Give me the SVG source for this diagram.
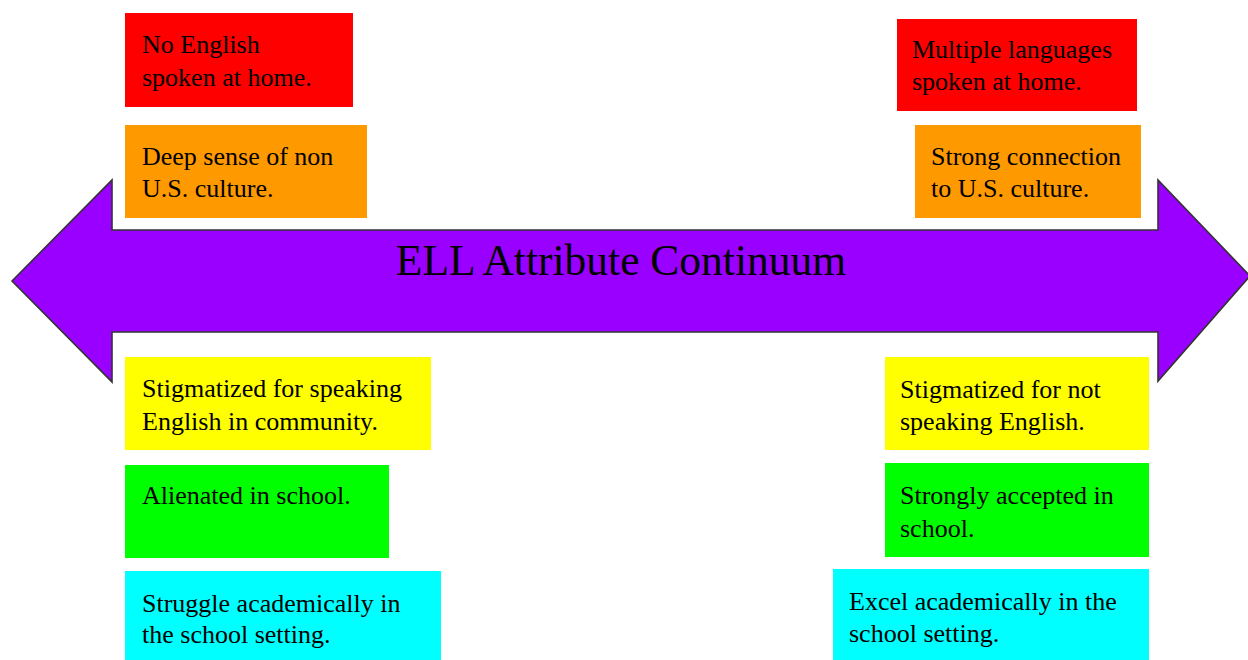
<svg xmlns="http://www.w3.org/2000/svg" width="1248" height="660" viewBox="0 0 1248 660">
<style>
text{font-family:"Liberation Serif","Times New Roman",serif;fill:#000}
.t{font-size:26px}
.title{font-size:43.5px}
.red{fill:#FF0000}.org{fill:#FF9900}.yel{fill:#FFFF00}.grn{fill:#00FF00}.cyn{fill:#00FFFF}
</style>
<rect width="1248" height="660" fill="#fff"/>
<g id="arrow">
<path d="M12,281 L112,180 L112,230 L1158,230 L1158,180 L1250,276 L1158,381 L1158,332 L112,332 L112,382 Z" fill="#9900FF" stroke="#333" stroke-width="1.6" stroke-linejoin="miter"/>
<text class="title" x="621" y="275" text-anchor="middle">ELL Attribute Continuum</text>
</g>
<g id="n1"><rect class="red" x="125" y="13" width="228" height="94"/><text class="t" x="142" y="53">No English</text><text class="t" x="142" y="86">spoken at home.</text></g>
<g id="n2"><rect class="org" x="125" y="125" width="242" height="93"/><text class="t" x="142" y="165">Deep sense of non</text><text class="t" x="142" y="197">U.S. culture.</text></g>
<g id="n3"><rect class="red" x="897" y="19" width="240" height="92"/><text class="t" x="912" y="58">Multiple languages</text><text class="t" x="912" y="90">spoken at home.</text></g>
<g id="n4"><rect class="org" x="915" y="125" width="226" height="93"/><text class="t" x="931" y="165">Strong connection</text><text class="t" x="931" y="197">to U.S. culture.</text></g>
<g id="n5"><rect class="yel" x="125" y="357" width="306" height="93"/><text class="t" x="142" y="397">Stigmatized for speaking</text><text class="t" x="142" y="430">English in community.</text></g>
<g id="n6"><rect class="grn" x="125" y="465" width="264" height="93"/><text class="t" x="142" y="504">Alienated in school.</text></g>
<g id="n7"><rect class="cyn" x="125" y="571" width="316" height="89"/><text class="t" x="142" y="612">Struggle academically in</text><text class="t" x="142" y="643">the school setting.</text></g>
<g id="n8"><rect class="yel" x="885" y="357" width="264" height="93"/><text class="t" x="900" y="398">Stigmatized for not</text><text class="t" x="900" y="430">speaking English.</text></g>
<g id="n9"><rect class="grn" x="885" y="463" width="264" height="94"/><text class="t" x="900" y="504">Strongly accepted in</text><text class="t" x="900" y="537">school.</text></g>
<g id="n10"><rect class="cyn" x="833" y="569" width="316" height="91"/><text class="t" x="849" y="610">Excel academically in the</text><text class="t" x="849" y="642">school setting.</text></g>
<g id="connectors"></g>
</svg>
